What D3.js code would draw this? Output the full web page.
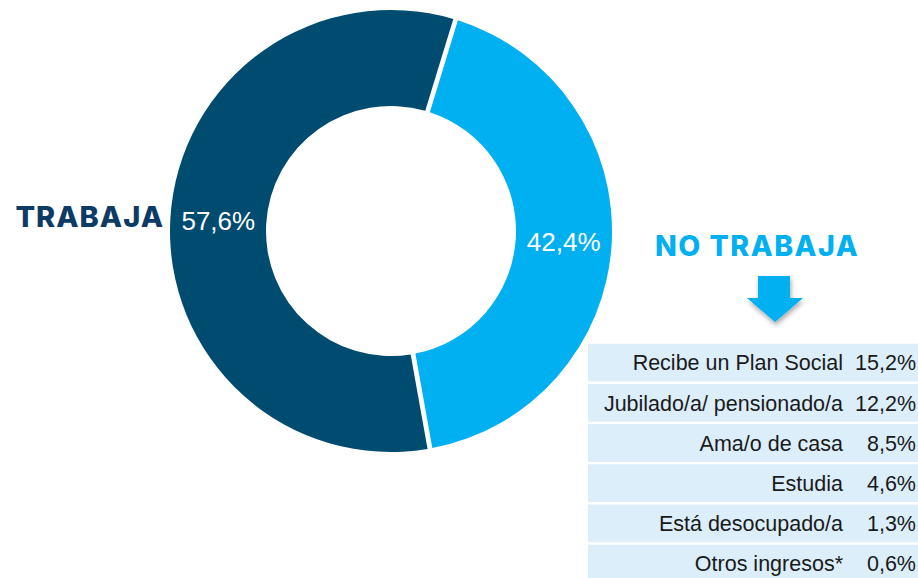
<!DOCTYPE html>
<html>
<head>
<meta charset="utf-8">
<script src="https://cdn.jsdelivr.net/npm/d3@7"></script>
<style>
  html, body { margin: 0; padding: 0; background: #fff; }
  svg { display: block; }
</style>
</head>
<body>
<svg id="viz"></svg>
<script>
// data
const groups = ["NO TRABAJA", "TRABAJA"];
const shares = [42.4, 57.6];
const groupColors = ["#00b0f0", "#004b70"];

const reasons = ["Recibe un Plan Social", "Jubilado/a/ pensionado/a", "Ama/o de casa", "Estudia", "Está desocupado/a", "Otros ingresos*"];
const reasonValues = [15.2, 12.2, 8.5, 4.6, 1.3, 0.6];

const width = 918, height = 578;
const fmt = v => v.toFixed(1).replace(".", ",") + "%";

const svg = d3.select("#viz")
    .attr("width", width)
    .attr("height", height)
    .attr("viewBox", `0 0 ${width} ${height}`);

// drop shadow for the arrow
const defs = svg.append("defs");
const shadow = defs.append("filter").attr("id", "shadow")
    .attr("x", "-30%").attr("y", "-30%").attr("width", "160%").attr("height", "160%");
shadow.append("feDropShadow")
    .attr("dx", 1).attr("dy", 3).attr("stdDeviation", 2.5)
    .attr("flood-color", "#000").attr("flood-opacity", 0.35);

// donut
const cx = 391, cy = 231;
const start = 17 * Math.PI / 180;
const pie = d3.pie().sort(null)
    .startAngle(start).endAngle(start + 2 * Math.PI)
    .padAngle(0.024);
const arc = d3.arc().innerRadius(125).outerRadius(221).padRadius(200);
const labelArc = d3.arc().innerRadius(173).outerRadius(173);

const arcs = pie(shares);
const g = svg.append("g").attr("transform", `translate(${cx},${cy})`);

g.selectAll("path")
  .data(arcs)
  .join("path")
    .attr("d", arc)
    .attr("fill", (d, i) => groupColors[i]);

g.selectAll("text")
  .data(arcs)
  .join("text")
    .attr("transform", d => `translate(${labelArc.centroid(d)})`)
    .attr("text-anchor", "middle")
    .attr("dy", "0.36em")
    .style("font-family", "'Liberation Sans', Arial, sans-serif")
    .style("font-size", "26px")
    .attr("fill", "#fff")
    .text(d => fmt(d.data));

// group titles
svg.append("text")
    .attr("x", 164).attr("y", 227)
    .attr("text-anchor", "end")
    .style("font-family", "Inter, sans-serif")
    .style("font-weight", 800)
    .style("font-size", "29px")
    .style("letter-spacing", "1px")
    .attr("fill", "#0d3b66")
    .text(groups[1]);

svg.append("text")
    .attr("x", 655).attr("y", 256)
    .style("font-family", "Inter, sans-serif")
    .style("font-weight", 800)
    .style("font-size", "28.5px")
    .style("letter-spacing", "1.5px")
    .attr("fill", groupColors[0])
    .text(groups[0]);

// arrow
const ax = 775;
svg.append("path")
    .attr("d", `M${ax - 17},276 H${ax + 15} V298 H${ax + 28} L${ax},322 L${ax - 28},298 H${ax - 17} Z`)
    .attr("fill", groupColors[0])
    .attr("filter", "url(#shadow)");

// breakdown table
const y = d3.scaleBand()
    .domain(reasons)
    .range([342.5, 342.5 + 40.2 * reasons.length])
    .paddingInner(0.06)
    .paddingOuter(0.03);

const rows = svg.append("g")
  .selectAll("g")
  .data(reasons)
  .join("g")
    .attr("transform", d => `translate(0,${y(d)})`);

rows.append("rect")
    .attr("x", 588).attr("width", width - 588)
    .attr("height", y.bandwidth())
    .attr("fill", "#dceefa");

const cellFont = sel => sel
    .attr("y", y.bandwidth() / 2)
    .attr("dy", "0.36em")
    .attr("text-anchor", "end")
    .style("font-family", "'Liberation Sans', Arial, sans-serif")
    .style("font-size", "21.5px")
    .attr("fill", "#1a1a1a");

rows.append("text")
    .attr("x", 843)
    .call(cellFont)
    .text(d => d);

rows.append("text")
    .attr("x", 916)
    .call(cellFont)
    .text((d, i) => fmt(reasonValues[i]));
</script>
</body>
</html>
